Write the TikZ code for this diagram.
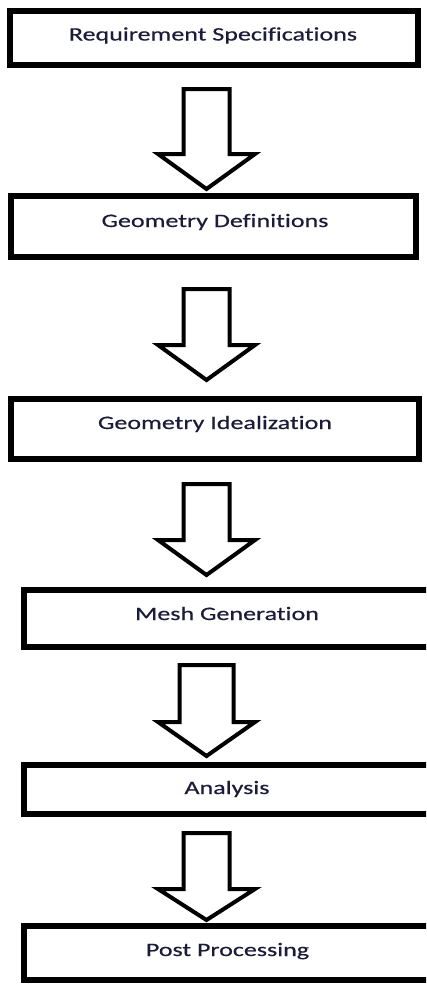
\documentclass[tikz,border=0pt]{standalone}
\usepackage{fontspec}
\setmainfont{Carlito}
\newfontfamily\lblfont[FakeBold=0.4,Ligatures=NoCommon]{Carlito}
\definecolor{txtcol}{RGB}{28,28,58}
\newcommand{\wide}[1]{\scalebox{1.37}[1]{#1}}
\begin{document}
\begin{tikzpicture}[x=1pt,y=-1pt,
  box/.style={draw=black,line width=6pt,fill=white,rectangle,inner sep=0pt,outer sep=0pt},
  lbl/.style={anchor=base,inner sep=0pt,text=txtcol,font=\lblfont\fontsize{19}{22}\selectfont},
  blockarrow/.style={draw=black,line width=4pt,fill=white,line join=miter}]
\useasboundingbox (0,0) rectangle (426,985);
\clip (0,0) rectangle (426,985);
\fill[white] (0,0) rectangle (426,985);
% boxes
\node[box,minimum width=408pt,minimum height=54pt] (b1) at (214,38) {};
\node[box,minimum width=405pt,minimum height=61pt] (b2) at (213.5,226.5) {};
\node[box,minimum width=408pt,minimum height=60pt] (b3) at (215,429) {};
\node[box,minimum width=406pt,minimum height=57pt] (b4) at (227,618.5) {};
\node[box,minimum width=406pt,minimum height=49pt] (b5) at (227,789.5) {};
\node[box,minimum width=406pt,minimum height=54pt] (b6) at (227,953) {};
% labels
\node[lbl] (t1) at (213,40.5) {\wide{Requirement Specifications}};
\node[lbl] (t2) at (215,227) {\wide{Geometry Definitions}};
\node[lbl] (t3) at (215,429) {\wide{Geometry Idealization}};
\node[lbl] (t4) at (227,620) {\wide{Mesh Generation}};
\node[lbl] (t5) at (227,794) {\wide{Analysis}};
\node[lbl] (t6) at (227.5,956) {\wide{Post Processing}};
% block arrows
\newcommand{\blockarr}[5]{% half shaft, top, shoulder, tip, half head
  \draw[blockarrow] (206.5-#1,#2) -- (206.5+#1,#2) -- (206.5+#1,#3) -- (206.5+#5,#3)
    -- (206.5,#4) -- (206.5-#5,#3) -- (206.5-#1,#3) -- cycle;}
\blockarr{23}{89}{154}{189}{48.5}
\blockarr{23}{289}{345}{380}{48.5}
\blockarr{23}{484}{540}{575}{48.5}
\blockarr{27}{665}{722}{756}{48.5}
\blockarr{23}{833}{889}{920}{48.5}
\end{tikzpicture}
\end{document}
